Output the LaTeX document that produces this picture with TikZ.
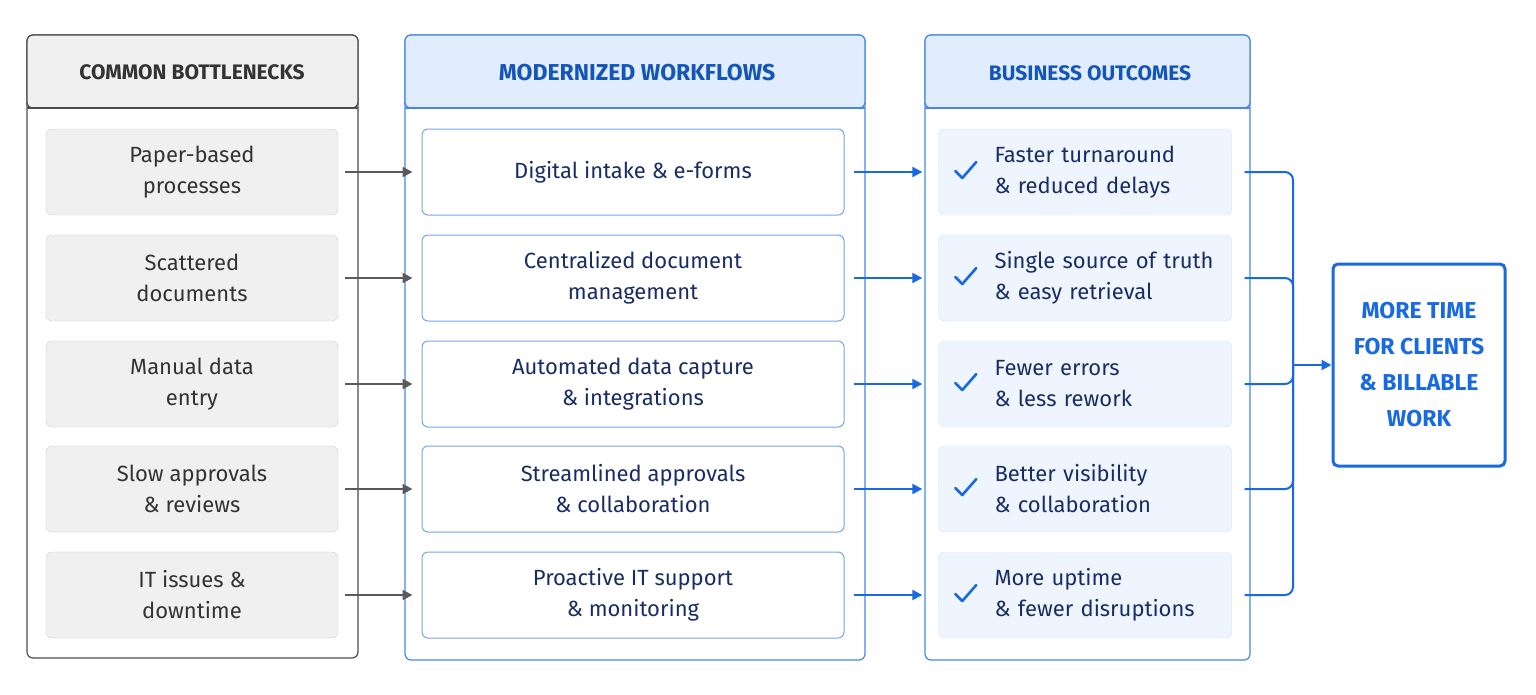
\documentclass[tikz,border=0pt]{standalone}
\usepackage{fontspec}
\setmainfont{Fira Sans}
\usetikzlibrary{positioning,arrows.meta}
\definecolor{navy}{RGB}{25,45,100}
\definecolor{accent}{RGB}{25,105,225}
\definecolor{headblue}{RGB}{20,85,185}
\definecolor{paleblue}{RGB}{225,237,252}
\definecolor{boxblue}{RGB}{238,245,254}
\definecolor{graybox}{RGB}{240,240,240}
\definecolor{grayline}{RGB}{90,90,90}

\begin{document}
\begin{tikzpicture}[x=1pt,y=-1pt,
  panel/.style={draw,rounded corners=6pt,line width=1.2pt},
  item/.style={rounded corners=6pt,minimum height=86pt,align=center,
    font=\fontsize{22}{31}\selectfont},
  bitem/.style={item,draw=graybox!70!gray,fill=graybox,text=black!80,minimum width=292pt},
  fitem/.style={item,draw=accent!60,fill=white,text=navy,minimum width=422pt,line width=1pt},
  oitem/.style={item,draw=accent!20,fill=boxblue,text=navy,minimum width=293pt,
    text width=293pt,align=left,inner xsep=0pt},
  head/.style={font=\fontsize{21}{24}\selectfont\bfseries},
  garrow/.style={-{Triangle[length=10pt,width=10pt]},line width=2.2pt,draw=grayline},
  barrow/.style={-{Triangle[length=10pt,width=10pt]},line width=2.2pt,draw=accent}]
  \useasboundingbox (0,0) rectangle (1536,694);

  % panels and headers
  \draw[panel,draw=black!70,fill=white] (27,35) rectangle (358,658);
  \draw[draw=black!70,fill=graybox,rounded corners=6pt,line width=1.2pt]
    (27,108) |- (358,35) |- cycle;
  \draw[black!70,line width=1.2pt] (27,108) -- (358,108);
  \node[head,text=black!80] (bhead) at (192,72) {COMMON BOTTLENECKS};

  \draw[panel,draw=accent!80,fill=white] (405,35) rectangle (865,660);
  \draw[draw=accent!80,fill=paleblue,rounded corners=6pt,line width=1.2pt]
    (405,108) |- (865,35) |- cycle;
  \draw[accent!80,line width=1.2pt] (405,108) -- (865,108);
  \node[head,text=headblue,font=\fontsize{23}{24}\selectfont\bfseries] (fhead) at (637,73) {MODERNIZED WORKFLOWS};

  \draw[panel,draw=accent!80,fill=white] (925,35) rectangle (1250,660);
  \draw[draw=accent!80,fill=paleblue,rounded corners=6pt,line width=1.2pt]
    (925,108) |- (1250,35) |- cycle;
  \draw[accent!80,line width=1.2pt] (925,108) -- (1250,108);
  \node[head,text=headblue] (ohead) at (1090,73) {BUSINESS OUTCOMES};

  % rows
  \foreach \i/\y/\b/\f/\o in {
    1/172/{Paper-based\\processes}/{Digital intake \& e-forms}/{Faster turnaround\\\& reduced delays},
    2/278/{Scattered\\documents}/{Centralized document\\management}/{Single source of truth\\\& easy retrieval},
    3/384/{Manual data\\entry}/{Automated data capture\\\& integrations}/{Fewer errors\\\& less rework},
    4/489/{Slow approvals\\\& reviews}/{Streamlined approvals\\\& collaboration}/{Better visibility\\\& collaboration},
    5/595/{IT issues \&\\downtime}/{Proactive IT support\\\& monitoring}/{More uptime\\\& fewer disruptions}}{
    \node[bitem] (bot\i) at (192,\y) {\b};
    \node[fitem] (flow\i) at (633,\y) {\f};
    \node[oitem] (out\i) at (1085,\y) {\hspace*{56pt}\parbox[c]{236pt}{\o}};
    \draw[accent,line width=2.6pt,line cap=round,line join=round]
      ([xshift=17pt,yshift=1pt]out\i.west) -- ++(7,7) -- ++(14,-16);
    \draw[garrow] ([xshift=7pt]bot\i.east) -- ([xshift=-9pt]flow\i.west);
    \draw[barrow] ([xshift=9pt]flow\i.east) -- ([xshift=-16pt]out\i.west);
    \coordinate (tap\i) at ([xshift=13pt]out\i.east);
  }

  % final box
  \node[draw=accent,line width=3pt,rounded corners=5pt,minimum width=172pt,
    minimum height=202pt,align=center,text=accent,
    font=\fontsize{23}{36}\selectfont\bfseries] (goal) at (1419,365)
    {MORE TIME\\FOR CLIENTS\\\& BILLABLE\\WORK};

  % bracket
  \coordinate (bend) at (1293,365);
  \draw[accent,line width=2pt,rounded corners=8pt]
    (tap1) -| (bend) |- (tap5);
  \foreach \i in {2,3,4}{
    \draw[accent,line width=2pt,rounded corners=8pt] (tap\i) -| (bend);
  }
  \draw[barrow] (bend) -- (goal.west);
\end{tikzpicture}
\end{document}
